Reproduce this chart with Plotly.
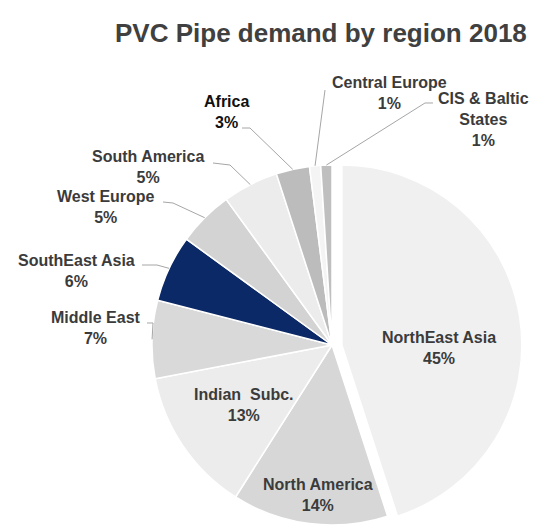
import math
import plotly.graph_objects as go

# ---------------- data ----------------
regions = ["NorthEast Asia", "North America", "Indian Subc.", "Middle East",
           "SouthEast Asia", "West Europe", "South America", "Africa",
           "Central Europe", "CIS & Baltic States"]
shares = [45, 14, 13, 7, 6, 5, 5, 3, 1, 1]
label_names = ["NorthEast Asia", "North America", "Indian  Subc.", "Middle East",
               "SouthEast Asia", "West Europe", "South America", "Africa",
               "Central Europe", "CIS & Baltic<br>States"]
title_text = "PVC Pipe demand by region 2018"

# ---------------- styles ----------------
OFF = 8                      # default page margin of the html body
W, H = 541 - OFF, 525 - OFF  # figure size so that it fills the window
colors = ["#f0f0f0", "#d7d7d7", "#ececec", "#d9d9d9", "#0b2867",
          "#d3d3d3", "#ececec", "#bcbcbc", "#f4f4f4", "#bfbfbf"]
CX, CY, R = 332, 345, 180  # pie centre / radius in page pixels
EXPLODE = 10               # px the first (largest) slice is pulled out sideways

label_pos = [(439, 348), (318, 495), (244, 405), (96, 328), (76, 271),
             (106, 207), (148, 167), (226, 112), (389, 93), (483, 120)]
leader_start = [None, None, None,
                [(147, 323), (153, 323)],
                [(142, 265), (157, 265)],
                [(163, 202), (173, 203)],
                [(213, 163), (230, 165)],
                [(242, 128), (250, 128)],
                [(325, 90)],
                [(433, 103), (425, 103)]]
label_colors = ["#3b3b3b"] * 10
label_colors[7] = "#111111"
FONT = "Liberation Sans, Arial, sans-serif"
CLEAR = "rgba(0,0,0,0)"


def px(x):
    return (x - OFF) / W


def py(y):
    return 1 - (y - OFF) / H


def domain(cx, cy):
    return dict(x=[px(cx - R), px(cx + R)],
                y=[max(0.0, py(cy + R)), min(1.0, py(cy - R))])


total = sum(shares)
mid0 = shares[0] / 2 / total * 2 * math.pi
dx = EXPLODE * math.sin(mid0)

# main pie: every slice except the exploded one
col_main = [CLEAR] + colors[1:]
fig = go.Figure(go.Pie(
    labels=regions, values=shares, sort=False, direction="clockwise",
    rotation=0, textinfo="none", hoverinfo="label+percent",
    marker=dict(colors=col_main,
                line=dict(color="#ffffff", width=[0] + [1.5] * (len(shares) - 1))),
    domain=domain(CX, CY), showlegend=False,
))
# exploded slice, drawn from the same data with its own shifted domain
col_exp = [colors[0]] + [CLEAR] * (len(shares) - 1)
fig.add_trace(go.Pie(
    labels=regions, values=shares, sort=False, direction="clockwise",
    rotation=0, textinfo="none", hoverinfo="skip",
    marker=dict(colors=col_exp,
                line=dict(color="#ffffff", width=[1.5] + [0] * (len(shares) - 1))),
    domain=domain(CX + dx, CY), showlegend=False,
))

annotations = []
shapes = []
cum = 0
for i, (name, v) in enumerate(zip(label_names, shares)):
    mid = (cum + v / 2) / total * 2 * math.pi
    cum += v
    pct = round(v / total * 100)
    lx, ly = label_pos[i]
    annotations.append(dict(
        x=px(lx), y=py(ly), xref="paper", yref="paper", showarrow=False,
        text=f"<b>{name}<br>{pct}%</b>", align="center",
        font=dict(family=FONT, size=16, color=label_colors[i]),
        xanchor="center", yanchor="middle"))
    if leader_start[i]:
        ex = CX + R * math.sin(mid)
        ey = CY - R * math.cos(mid)
        pts = leader_start[i] + [(ex, ey)]
        path = "M " + " L ".join(f"{px(a):.5f},{py(b):.5f}" for a, b in pts)
        shapes.append(dict(type="path", xref="paper", yref="paper", path=path,
                           line=dict(color="#a6a6a6", width=1)))

annotations.append(dict(
    x=px(321), y=py(33), xref="paper", yref="paper", showarrow=False,
    text=f"<b>{title_text}</b>", xanchor="center", yanchor="middle",
    font=dict(family=FONT, size=26, color="#404040")))

fig.update_layout(
    width=W, height=H, margin=dict(l=0, r=0, t=0, b=0),
    paper_bgcolor="white", plot_bgcolor="white",
    annotations=annotations, shapes=shapes,
)

fig.write_html("out.html")
